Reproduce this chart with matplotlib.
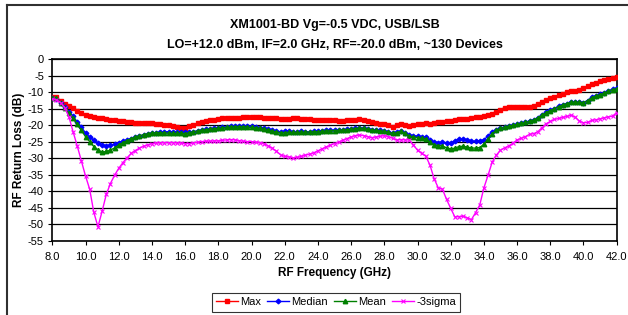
import matplotlib
matplotlib.use("Agg")
from matplotlib import pyplot as plt
from matplotlib.lines import Line2D
import numpy as np

plt.rcParams['font.family'] = ['Liberation Sans', 'DejaVu Sans']

# sweep: 8.0 to 42.0 GHz in 0.25 GHz steps
freq = np.arange(8.0, 42.01, 0.25)

max_db = [-11.5, -11.4, -12.8, -13.6, -14.3, -14.9, -15.6, -16.3,
          -16.9, -17.2, -17.5, -17.8, -18.0, -18.3, -18.4, -18.6,
          -18.8, -18.9, -19.0, -19.2, -19.3, -19.3, -19.3, -19.4,
          -19.5, -19.6, -19.7, -19.9, -20.0, -20.3, -20.7, -21.0,
          -20.8, -20.4, -19.9, -19.5, -19.1, -18.8, -18.5, -18.4,
          -18.2, -18.0, -17.9, -17.9, -17.8, -17.9, -17.7, -17.7,
          -17.6, -17.6, -17.7, -17.8, -17.9, -17.9, -18.0, -18.2,
          -18.2, -18.1, -18.0, -17.9, -18.2, -18.2, -18.3, -18.4,
          -18.5, -18.5, -18.4, -18.6, -18.5, -18.7, -18.9, -18.6,
          -18.4, -18.5, -18.3, -18.6, -18.8, -19.2, -19.4, -19.6,
          -19.8, -20.1, -20.6, -20.0, -19.6, -19.9, -20.3, -20.0,
          -19.8, -19.7, -19.5, -19.7, -19.3, -19.2, -19.2, -18.9,
          -18.8, -18.4, -18.2, -18.2, -18.1, -18.0, -17.6, -17.5,
          -17.3, -16.9, -16.5, -15.9, -15.3, -14.7, -14.4, -14.4,
          -14.4, -14.4, -14.4, -14.4, -14.3, -13.7, -13.0, -12.5,
          -11.9, -11.5, -11.0, -10.5, -10.1, -9.8, -9.6, -9.4,
          -8.9, -8.2, -7.7, -7.2, -6.8, -6.4, -6.0, -5.7,
          -5.5]

median_db = [-11.8, -12.0, -13.2, -14.6, -16.0, -17.4, -19.0, -20.6,
             -22.4, -23.6, -24.6, -25.5, -26.0, -26.2, -26.1, -25.8,
             -25.3, -24.9, -24.5, -24.1, -23.7, -23.4, -23.1, -22.8,
             -22.5, -22.3, -22.2, -22.1, -22.0, -22.1, -22.1, -22.2,
             -22.2, -22.1, -22.0, -21.8, -21.5, -21.3, -21.2, -21.0,
             -20.9, -20.7, -20.6, -20.4, -20.3, -20.3, -20.3, -20.4,
             -20.4, -20.6, -20.8, -21.0, -21.3, -21.6, -21.9, -22.0,
             -21.9, -21.9, -22.0, -22.0, -21.9, -22.0, -22.1, -21.9,
             -21.8, -21.7, -21.6, -21.6, -21.5, -21.5, -21.4, -21.3,
             -21.2, -21.0, -20.9, -21.0, -21.2, -21.4, -21.5, -21.6,
             -21.8, -22.0, -22.4, -22.1, -21.8, -22.3, -23.0, -23.2,
             -23.4, -23.6, -23.7, -24.5, -25.2, -25.3, -25.2, -25.5,
             -25.4, -24.8, -24.2, -24.3, -24.4, -24.9, -24.9, -24.7,
             -24.5, -23.3, -22.0, -21.4, -20.9, -20.6, -20.3, -20.1,
             -19.8, -19.5, -19.2, -18.7, -18.5, -17.8, -16.9, -16.1,
             -15.5, -15.0, -14.3, -13.8, -13.5, -13.0, -12.9, -13.0,
             -13.2, -12.6, -11.6, -11.1, -10.7, -10.2, -9.6, -9.2,
             -8.9]

mean_db = [-11.8, -11.9, -13.3, -14.9, -16.4, -18.0, -19.8, -21.6,
           -23.5, -25.0, -26.5, -27.5, -28.2, -28.0, -27.6, -26.9,
           -26.0, -25.3, -24.7, -24.1, -23.6, -23.2, -22.9, -22.6,
           -22.4, -22.3, -22.3, -22.4, -22.4, -22.5, -22.5, -22.5,
           -22.6, -22.3, -22.0, -21.8, -21.6, -21.4, -21.2, -21.1,
           -21.0, -20.9, -20.7, -20.6, -20.5, -20.5, -20.5, -20.6,
           -20.7, -20.8, -21.0, -21.3, -21.6, -21.9, -22.1, -22.3,
           -22.3, -22.2, -22.2, -22.2, -22.2, -22.1, -22.1, -22.0,
           -22.0, -21.9, -21.8, -21.7, -21.7, -21.6, -21.5, -21.4,
           -21.3, -21.1, -20.9, -21.0, -21.3, -21.5, -21.6, -21.7,
           -21.9, -22.1, -22.5, -22.3, -21.9, -22.5, -23.4, -23.6,
           -23.8, -24.0, -24.2, -25.2, -26.0, -26.2, -26.3, -26.9,
           -27.2, -27.0, -26.5, -26.4, -26.7, -26.9, -27.0, -26.8,
           -25.8, -24.2, -22.6, -21.6, -21.0, -20.6, -20.3, -20.1,
           -19.8, -19.5, -19.2, -18.8, -18.5, -17.8, -17.0, -16.2,
           -15.6, -15.0, -14.4, -13.9, -13.5, -13.1, -13.0, -13.1,
           -13.2, -12.6, -11.7, -11.2, -10.8, -10.3, -9.7, -9.3,
           -9.0]

sigma3_db = [-12.1, -12.3, -13.2, -14.7, -17.5, -22.0, -26.3, -30.9,
             -35.4, -39.4, -46.4, -50.8, -46.1, -41.0, -37.7, -35.2,
             -33.1, -31.4, -29.9, -28.6, -27.7, -27.0, -26.4, -26.0,
             -25.6, -25.4, -25.4, -25.3, -25.4, -25.3, -25.4, -25.4,
             -25.6, -25.6, -25.4, -25.2, -25.0, -24.9, -24.9, -24.8,
             -24.8, -24.6, -24.5, -24.4, -24.5, -24.7, -24.9, -25.0,
             -25.0, -25.2, -25.3, -25.6, -26.3, -27.0, -27.9, -29.0,
             -29.5, -29.6, -29.9, -29.8, -29.5, -29.1, -28.8, -28.4,
             -27.8, -27.2, -26.6, -26.1, -25.6, -25.1, -24.6, -24.1,
             -23.6, -23.2, -23.0, -23.2, -23.5, -23.8, -23.6, -23.4,
             -23.2, -23.5, -24.0, -24.5, -24.4, -24.5, -24.5, -26.0,
             -27.6, -28.6, -29.4, -32.1, -36.2, -39.0, -39.4, -42.5,
             -45.2, -47.8, -47.7, -47.6, -48.1, -48.6, -46.5, -44.2,
             -39.0, -35.2, -31.2, -29.1, -27.6, -26.9, -26.3, -25.5,
             -24.5, -24.0, -23.5, -22.8, -22.6, -22.0, -20.8, -19.6,
             -18.9, -18.3, -18.0, -17.7, -17.4, -17.0, -17.6, -18.8,
             -19.3, -19.2, -18.6, -18.4, -18.1, -17.8, -17.5, -17.3,
             -16.2]

xticks = np.arange(8.0, 42.01, 2.0)
yticks = np.arange(-55, 1, 5)

fig = plt.figure(figsize=(6.28, 3.15), dpi=100)
ax = fig.add_axes([0.0833, 0.2359, 0.8987, 0.5768])

# outer chart border (only top and left edges show in the picture)
fig.lines.append(Line2D([0.011, 0.011], [0.0, 0.984], transform=fig.transFigure,
                        color='#303030', linewidth=1.5))
fig.lines.append(Line2D([0.011, 1.0], [0.984, 0.984], transform=fig.transFigure,
                        color='#303030', linewidth=1.5))

for y in yticks:
    ax.axhline(y, color='black', linewidth=0.9, zorder=1)

ax.plot(freq, max_db, '-s', color='#FF0000', markersize=2.6, linewidth=1, label='Max', zorder=3)
ax.plot(freq, median_db, '-D', color='#0000FF', markersize=2.4, linewidth=1, label='Median', zorder=3)
ax.plot(freq, mean_db, '-^', color='#008000', markersize=3.2, linewidth=1, label='Mean', zorder=3)
ax.plot(freq, sigma3_db, '-x', color='#FF00FF', markersize=3.2, markeredgewidth=0.8, linewidth=1,
        label='-3sigma', zorder=3)

ax.set_xlim(8, 42)
ax.set_ylim(-55, 0)
ax.set_xticks(xticks)
ax.set_xticklabels(['%.1f' % x for x in xticks], fontsize=8)
ax.set_yticks(yticks)
ax.set_yticklabels(['%d' % y for y in yticks], fontsize=8)
ax.tick_params(direction='out', length=3, width=0.8)
ax.tick_params(axis='x', pad=5.5)
ax.tick_params(axis='y', pad=3)
for s in ax.spines.values():
    s.set_linewidth(1.2)
    s.set_color('black')

ax.set_xlabel('RF Frequency (GHz)', fontsize=8.5, fontweight='bold', labelpad=3)
ax.set_ylabel('RF Return Loss (dB)', fontsize=8.5, fontweight='bold', labelpad=2)

fig.text(0.533, 0.92, 'XM1001-BD Vg=-0.5 VDC, USB/LSB', ha='center', va='center',
         fontsize=9, fontweight='bold')
fig.text(0.533, 0.856, 'LO=+12.0 dBm, IF=2.0 GHz, RF=-20.0 dBm, ~130 Devices', ha='center',
         va='center', fontsize=9, fontweight='bold')

leg = fig.legend(loc='center', bbox_to_anchor=(0.535, 0.041), ncol=4, fontsize=8,
                 frameon=True, fancybox=False, edgecolor='black', handlelength=2.0,
                 handletextpad=0.2, columnspacing=0.5, borderpad=0.4)
leg.get_frame().set_linewidth(0.8)

fig.savefig('out.png', dpi=100)
